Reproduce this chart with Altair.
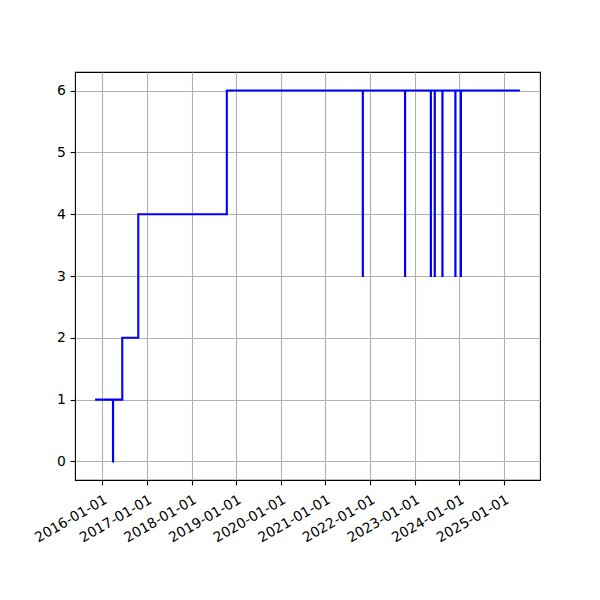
import altair as alt
import pandas as pd

dates = ["2015-11-12", "2016-03-29", "2016-03-30", "2016-06-13", "2016-10-22",
         "2018-10-17", "2021-11-03", "2021-11-04", "2022-10-15", "2022-10-16",
         "2023-05-14", "2023-05-15", "2023-06-15", "2023-06-16", "2023-08-17",
         "2023-08-18", "2023-12-01", "2023-12-02", "2024-01-15", "2024-01-16",
         "2025-05-04"]
values = [1, 0, 1, 2, 4,
          6, 3, 6, 3, 6,
          3, 6, 3, 6, 3,
          6, 3, 6, 3, 6,
          6]
tick_years = list(range(2016, 2026))
y_ticks = [0, 1, 2, 3, 4, 5, 6]

df = pd.DataFrame({"date": dates, "value": values})
d = pd.to_datetime(df["date"], utc=True)
span = d.max() - d.min()
x_min = int((d.min() - span * 0.05).timestamp() * 1000)
x_max = int((d.max() + span * 0.05).timestamp() * 1000)
vmin, vmax = min(values), max(values)
ypad = (vmax - vmin) * 0.05

chart = alt.Chart(df).mark_line(
    interpolate="step-after", color="#0000ff", strokeWidth=2.08, strokeCap="square"
).encode(
    x=alt.X(
        "date:T",
        scale=alt.Scale(type="utc", domain=[x_min, x_max], nice=False),
        axis=alt.Axis(
            values=[alt.DateTime(year=y, month=1, date=1, utc=True) for y in tick_years],
            labelExpr="utcFormat(datum.value, '%Y-%m-%d')",
            labelAngle=330, labelAlign="right", labelBaseline="top",
            title=None, labelOverlap=False, labelPadding=7.5,
        ),
    ),
    y=alt.Y(
        "value:Q",
        scale=alt.Scale(domain=[vmin - ypad, vmax + ypad], nice=False, zero=False),
        axis=alt.Axis(values=y_ticks, format="d", title=None),
    ),
).properties(
    width=465, height=408,
    autosize=alt.AutoSizeParams(type="none"),
    padding={"left": 67, "top": 64, "right": 52, "bottom": 104},
).configure_view(
    stroke="black", strokeWidth=1.1
).configure_axis(
    domain=False, grid=True, gridColor="#b0b0b0", gridWidth=1.1,
    tickColor="black", tickSize=4.86, tickWidth=1.1,
    labelFont="DejaVu Sans", labelFontSize=13.9, labelColor="black",
    labelPadding=4.86,
)

chart.save("out.html", embed_options={"renderer": "svg", "actions": False})
